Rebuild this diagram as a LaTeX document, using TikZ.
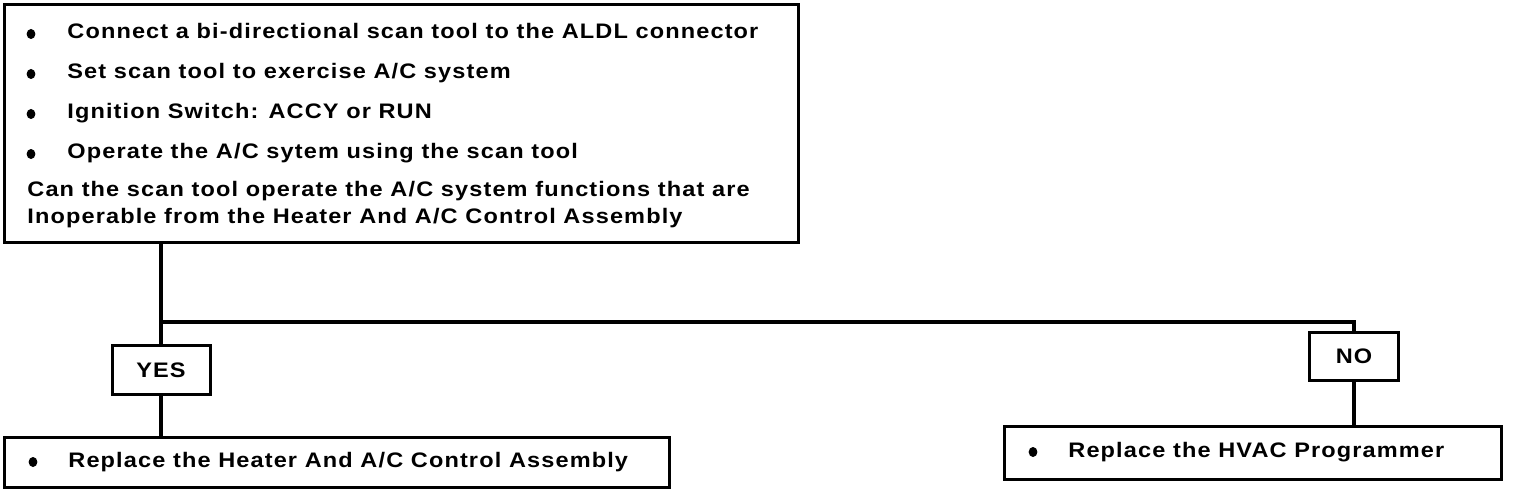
\documentclass[tikz,border=0pt]{standalone}
\usepackage{fontspec}
\usetikzlibrary{shapes.geometric}
\setmainfont{Liberation Sans}[FakeStretch=1.12,LetterSpace=5.4]
\begin{document}
\begin{tikzpicture}[x=0.5pt,y=-0.5pt,
  box/.style={draw,line width=1.5pt,inner sep=0pt},
  txt/.style={anchor=base west,inner sep=0pt,font=\fontsize{10.5}{12}\selectfont\bfseries},
  lbl/.style={font=\fontsize{10.5}{12}\selectfont\bfseries,inner sep=0pt},
  dot/.style={ellipse,fill,inner sep=0pt,minimum width=4.4pt,minimum height=5pt},
  conn/.style={line width=2pt}]
\useasboundingbox (0,0) rectangle (1520,492);
% main box
\node[box,anchor=north west,minimum width=397pt,minimum height=119pt] (main) at (3,3) {};
\node[dot] (b1) at (31,34) {};
\node[txt] (t1) at (67,39) {Connect a bi-directional scan tool to the ALDL connector};
\node[dot] (b2) at (31,74) {};
\node[txt] (t2) at (67,79) {Set scan tool to exercise A/C system};
\node[dot] (b3) at (31,114) {};
\node[txt] (t3) at (67,119) {Ignition Switch: ACCY or RUN};
\node[dot] (b4) at (31,154) {};
\node[txt] (t4) at (67,158) {Operate the A/C sytem using the scan tool};
\node[txt] (q1) at (27,196) {Can the scan tool operate the A/C system functions that are};
\node[txt] (q2) at (27,223) {Inoperable from the Heater And A/C Control Assembly};
% decision labels
\node[box,lbl,minimum width=49pt,minimum height=24.5pt] (yes) at (161,370) {YES};
\node[box,lbl,minimum width=44.5pt,minimum height=24pt] (no) at (1354,356) {NO};
% result boxes
\node[box,anchor=north west,minimum width=332.5pt,minimum height=25pt] (heater) at (3,436) {};
\node[dot] (hb) at (33,462) {};
\node[txt] (ht) at (68,467) {Replace the Heater And A/C Control Assembly};
\node[box,anchor=north west,minimum width=248.5pt,minimum height=26.5pt] (hvac) at (1003,425) {};
\node[dot] (vb) at (1033,452) {};
\node[txt] (vt) at (1068,457) {Replace the HVAC Programmer};
% connectors
\coordinate (split) at (161,322);
\draw[conn] (main.south -| yes.north) -- (yes.north);
\draw[conn] (yes.south) -- (yes.south |- heater.north);
\draw[conn] (split) -| (no.north);
\draw[conn] (no.south) -- (no.south |- hvac.north);
\end{tikzpicture}
\end{document}
